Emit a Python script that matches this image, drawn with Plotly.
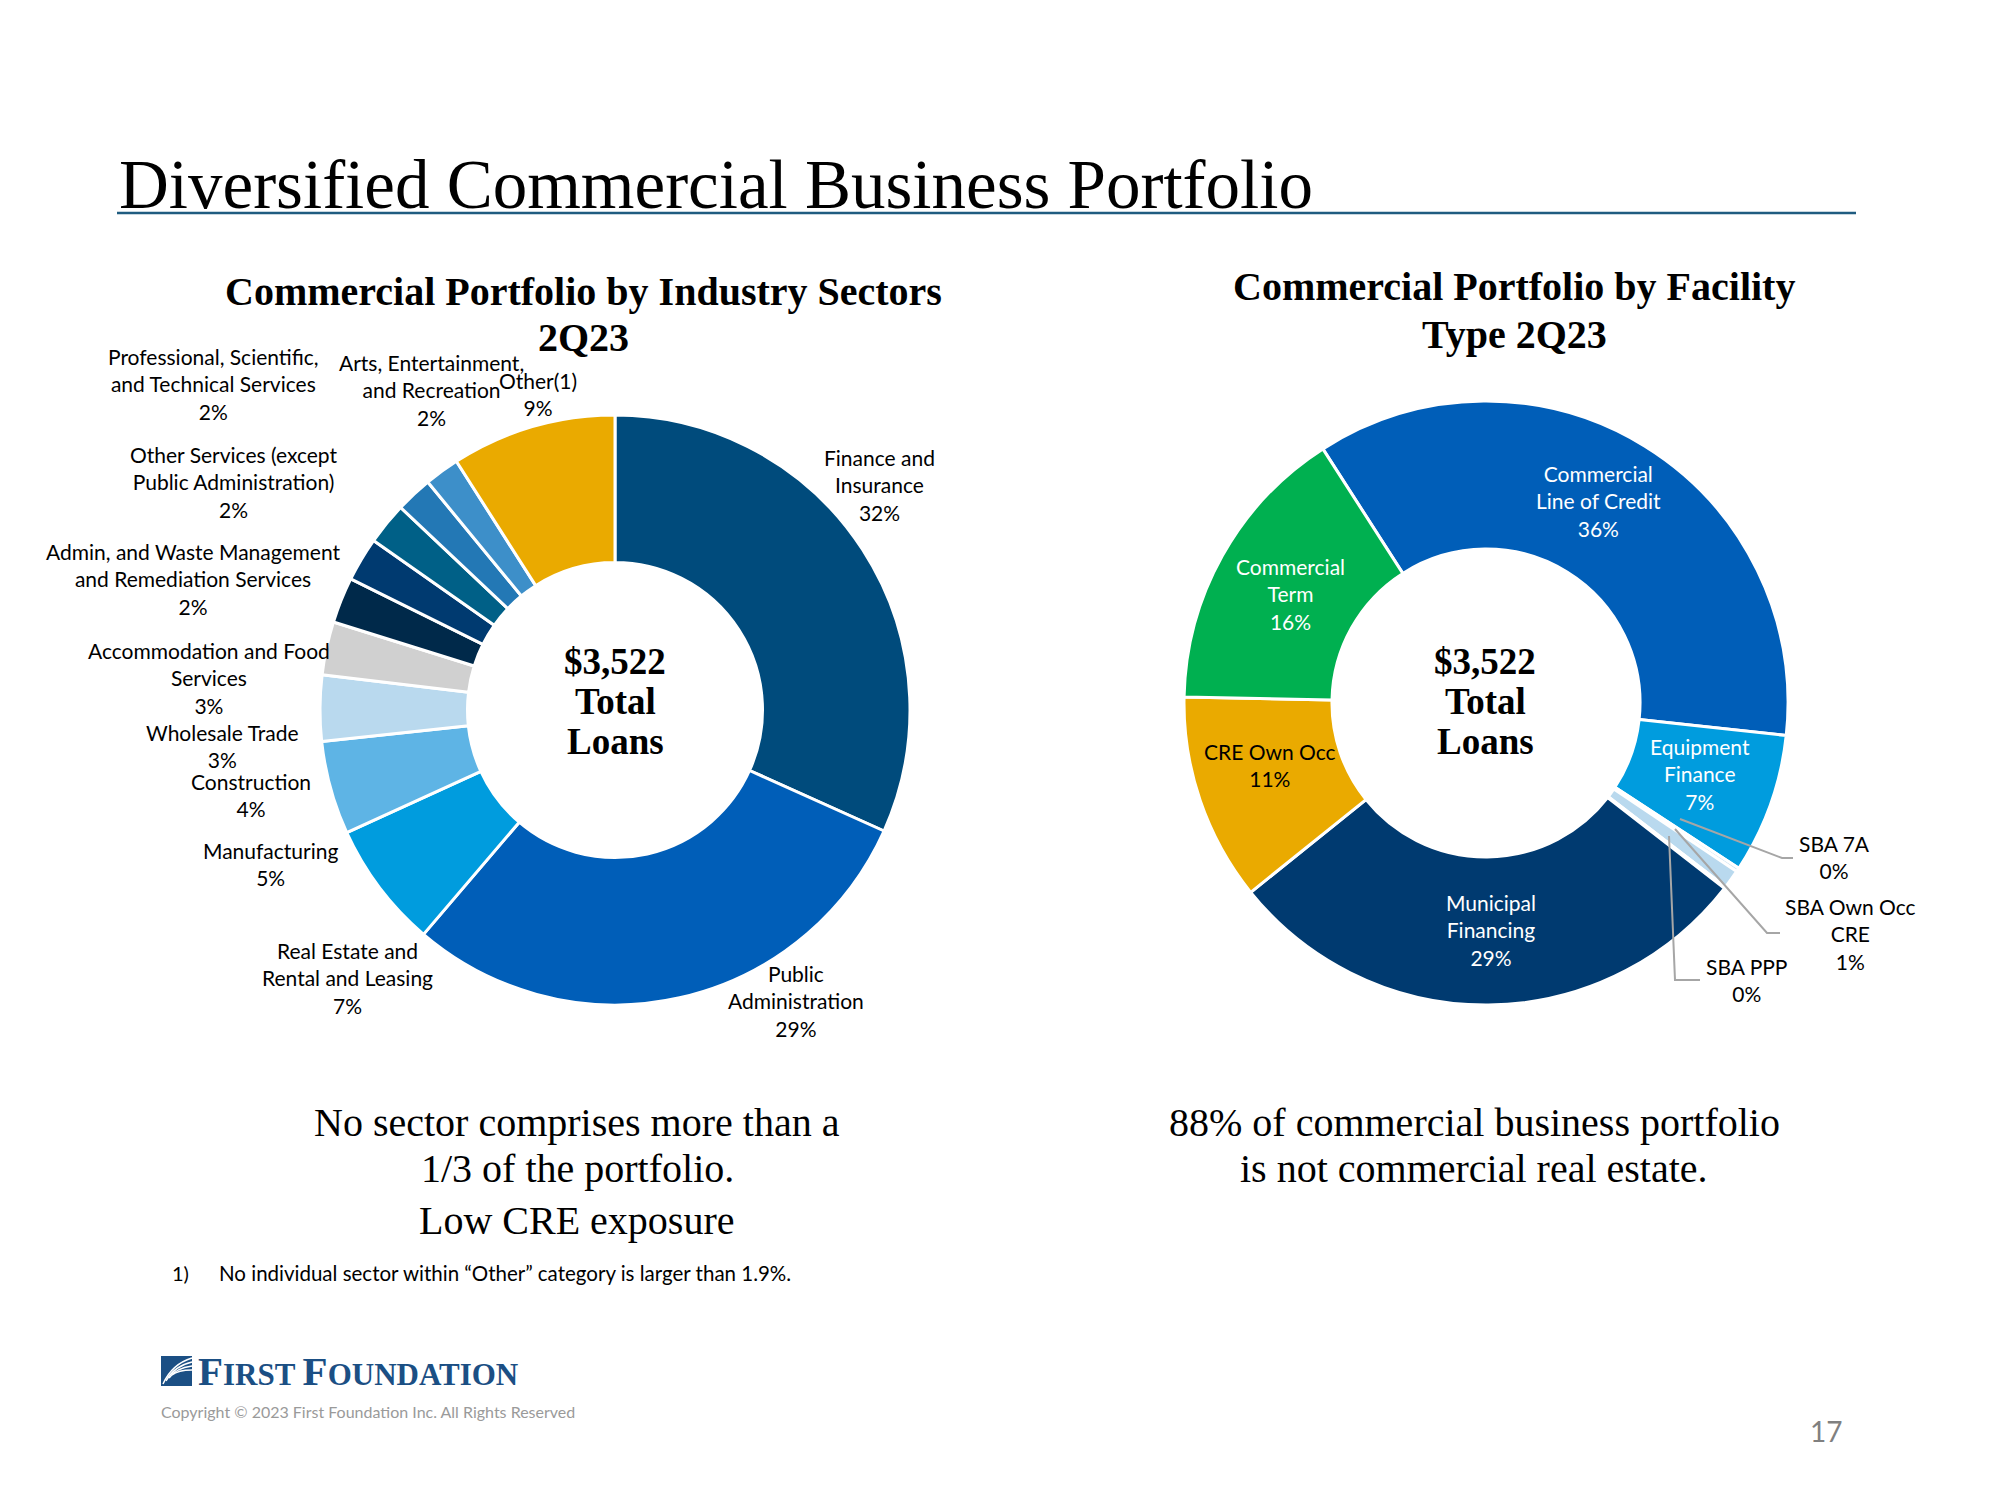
import plotly.graph_objects as go

W, H = 2000, 1500

# ---------------- data ----------------
sector_names = ["Finance and Insurance", "Public Administration", "Real Estate and Rental and Leasing",
                "Manufacturing", "Construction", "Wholesale Trade", "Accommodation and Food Services",
                "Admin, and Waste Management and Remediation Services",
                "Other Services (except Public Administration)",
                "Professional, Scientific, and Technical Services",
                "Arts, Entertainment, and Recreation", "Other(1)"]
sector_values = [31.6, 29.4, 6.9, 5.1, 3.6, 2.9, 2.5, 2.4, 2.3, 2.0, 1.9, 9.0]
sector_pct_labels = ["32%", "29%", "7%", "5%", "4%", "3%", "3%", "2%", "2%", "2%", "2%", "9%"]
sector_label_lines = ["Finance and<br>Insurance", "Public<br>Administration", "Real Estate and<br>Rental and Leasing",
                      "Manufacturing", "Construction", "Wholesale Trade", "Accommodation and Food<br>Services",
                      "Admin, and Waste Management<br>and Remediation Services",
                      "Other Services (except<br>Public Administration)",
                      "Professional, Scientific,<br>and Technical Services",
                      "Arts, Entertainment,<br>and Recreation", "Other(1)"]
sector_colors = ["#004B7C", "#005EB8", "#009CDE", "#5EB4E5", "#B9D9EE", "#D0D0D0",
                 "#00294A", "#003A70", "#006087", "#2378B5", "#3D8FC9", "#EAAA00"]

facility_names = ["Commercial Line of Credit", "Equipment Finance", "SBA 7A", "SBA Own Occ CRE",
                  "SBA PPP", "Municipal Financing", "CRE Own Occ", "Commercial Term"]
facility_values = [35.8, 7.5, 0.2, 1.0, 0.1, 28.7, 11.1, 15.6]
facility_pct_labels = ["36%", "7%", "0%", "1%", "0%", "29%", "11%", "16%"]
facility_label_lines = ["Commercial<br>Line of Credit", "Equipment<br>Finance", "SBA 7A", "SBA Own Occ<br>CRE",
                        "SBA PPP", "Municipal<br>Financing", "CRE Own Occ", "Commercial<br>Term"]
facility_colors = ["#005EB8", "#009CDE", "#C9E2F3", "#B9D9EE", "#DDEBF7", "#003A70", "#EAAA00", "#00B050"]
facility_text_colors = ["white", "white", "black", "black", "black", "white", "black", "white"]

center_lines = ["$3,522", "Total", "Loans"]

# ---------------- layout helpers (pixel positions) ----------------
OFF = 8  # page body margin

def px(x):
    return (x - OFF) / W

def py(y):
    return 1 - (y - OFF) / H

SANS = "Lato"
SERIF = "Liberation Serif"

sector_label_pos = [(879, 485), (796, 1001), (347, 978), (270, 864), (251, 795), (222, 746),
                    (209, 678), (193, 579), (233, 482), (213, 384), (431, 390), (538, 394)]
facility_label_pos = [(1598, 501), (1700, 774), (1834, 857), (1850, 934), (1746, 980),
                      (1491, 930), (1270, 765), (1290, 594)]

fig = go.Figure()

lc, lr = (615, 710), 295
fig.add_trace(go.Pie(
    labels=sector_names, values=sector_values, sort=False, direction="clockwise", rotation=0,
    hole=0.5, marker=dict(colors=sector_colors, line=dict(color="white", width=3)),
    textinfo="none", showlegend=False,
    domain=dict(x=[px(lc[0] - lr), px(lc[0] + lr)], y=[py(lc[1] + lr), py(lc[1] - lr)])))

rc, rr = (1486, 703), 302
fig.add_trace(go.Pie(
    labels=facility_names, values=facility_values, sort=False, direction="clockwise", rotation=-32.7,
    hole=0.51, marker=dict(colors=facility_colors, line=dict(color="white", width=3)),
    textinfo="none", showlegend=False,
    domain=dict(x=[px(rc[0] - rr), px(rc[0] + rr)], y=[py(rc[1] + rr), py(rc[1] - rr)])))

annotations = []

def ann(x, y, text, size, color="black", family=SANS, xanchor="center", yanchor="middle", align="center"):
    annotations.append(dict(x=px(x), y=py(y), xref="paper", yref="paper", text=text, showarrow=False,
                            font=dict(size=size, color=color, family=family),
                            xanchor=xanchor, yanchor=yanchor, align=align))

for lines, pct, (x, y) in zip(sector_label_lines, sector_pct_labels, sector_label_pos):
    ann(x, y, f"{lines}<br>{pct}", 21)
for lines, pct, (x, y), c in zip(facility_label_lines, facility_pct_labels, facility_label_pos, facility_text_colors):
    ann(x, y, f"{lines}<br>{pct}", 21, color=c)

# center totals
for cx in (615, 1485):
    for i, t in enumerate(center_lines):
        ann(cx, 661 + 40 * i, f"<b>{t}</b>", 37, family=SERIF)

# titles
ann(117, 185, "Diversified Commercial Business Portfolio", 69, family=SERIF, xanchor="left")
ann(583, 291, "<b>Commercial Portfolio by Industry Sectors</b>", 40, family=SERIF)
ann(583, 337, "<b>2Q23</b>", 40, family=SERIF)
ann(1514, 287, "<b>Commercial Portfolio by Facility</b>", 40, family=SERIF)
ann(1514, 334, "<b>Type 2Q23</b>", 40, family=SERIF)

# bottom text
ann(577, 1122, "No sector comprises more than a", 40, family=SERIF)
ann(577, 1168, "1/3 of the portfolio.", 40, family=SERIF)
ann(577, 1220, "Low CRE exposure", 40, family=SERIF)
ann(1474, 1122, "88% of commercial business portfolio", 40, family=SERIF)
ann(1474, 1168, "is not commercial real estate.", 40, family=SERIF)

# footnote
ann(170, 1273, "1)", 20, xanchor="left")
ann(217, 1273, "No individual sector within “Other” category is larger than 1.9%.", 20.5, xanchor="left")

# logo & copyright
ann(196, 1371, "<b><span style='font-size:41px'>F</span>IRST <span style='font-size:41px'>F</span>OUNDATION</b>",
    31, color="#1B4F84", family=SERIF, xanchor="left")
ann(159, 1411, "Copyright © 2023 First Foundation Inc. All Rights Reserved", 16, color="#9A9A9A", xanchor="left")
ann(1826, 1431, "17", 28, color="#808080")

shapes = [
    dict(type="line", xref="paper", yref="paper", x0=px(117), x1=px(1856), y0=py(213), y1=py(213),
         line=dict(color="#1F5C80", width=2.5)),
    dict(type="rect", xref="paper", yref="paper", x0=px(161), x1=px(192), y0=py(1386), y1=py(1356),
         fillcolor="#1B4F84", line=dict(width=0)),
]
# white swoosh stripes on the logo mark
for k in range(4):
    x0, y0 = 163 + 3 * k, 1384 - 3 * k
    shapes.append(dict(type="path", xref="paper", yref="paper",
                       path=f"M {px(x0)} {py(y0)} Q {px(172 + 2*k)} {py(1364 + 2*k)} {px(192)} {py(1358 + 4*k)}",
                       line=dict(color="white", width=1.5)))

leaders = [
    [(1680, 819), (1782, 858), (1793, 858)],
    [(1675, 829), (1767, 933), (1780, 933)],
    [(1669, 836), (1675, 980), (1700, 980)],
]
for pts in leaders:
    path = "M " + " L ".join(f"{px(x)} {py(y)}" for x, y in pts)
    shapes.append(dict(type="path", xref="paper", yref="paper", path=path,
                       line=dict(color="#A6A6A6", width=2)))

fig.update_layout(width=W, height=H, margin=dict(l=0, r=0, t=0, b=0),
                  paper_bgcolor="white", plot_bgcolor="white",
                  annotations=annotations, shapes=shapes)

fig.write_html("out.html")
